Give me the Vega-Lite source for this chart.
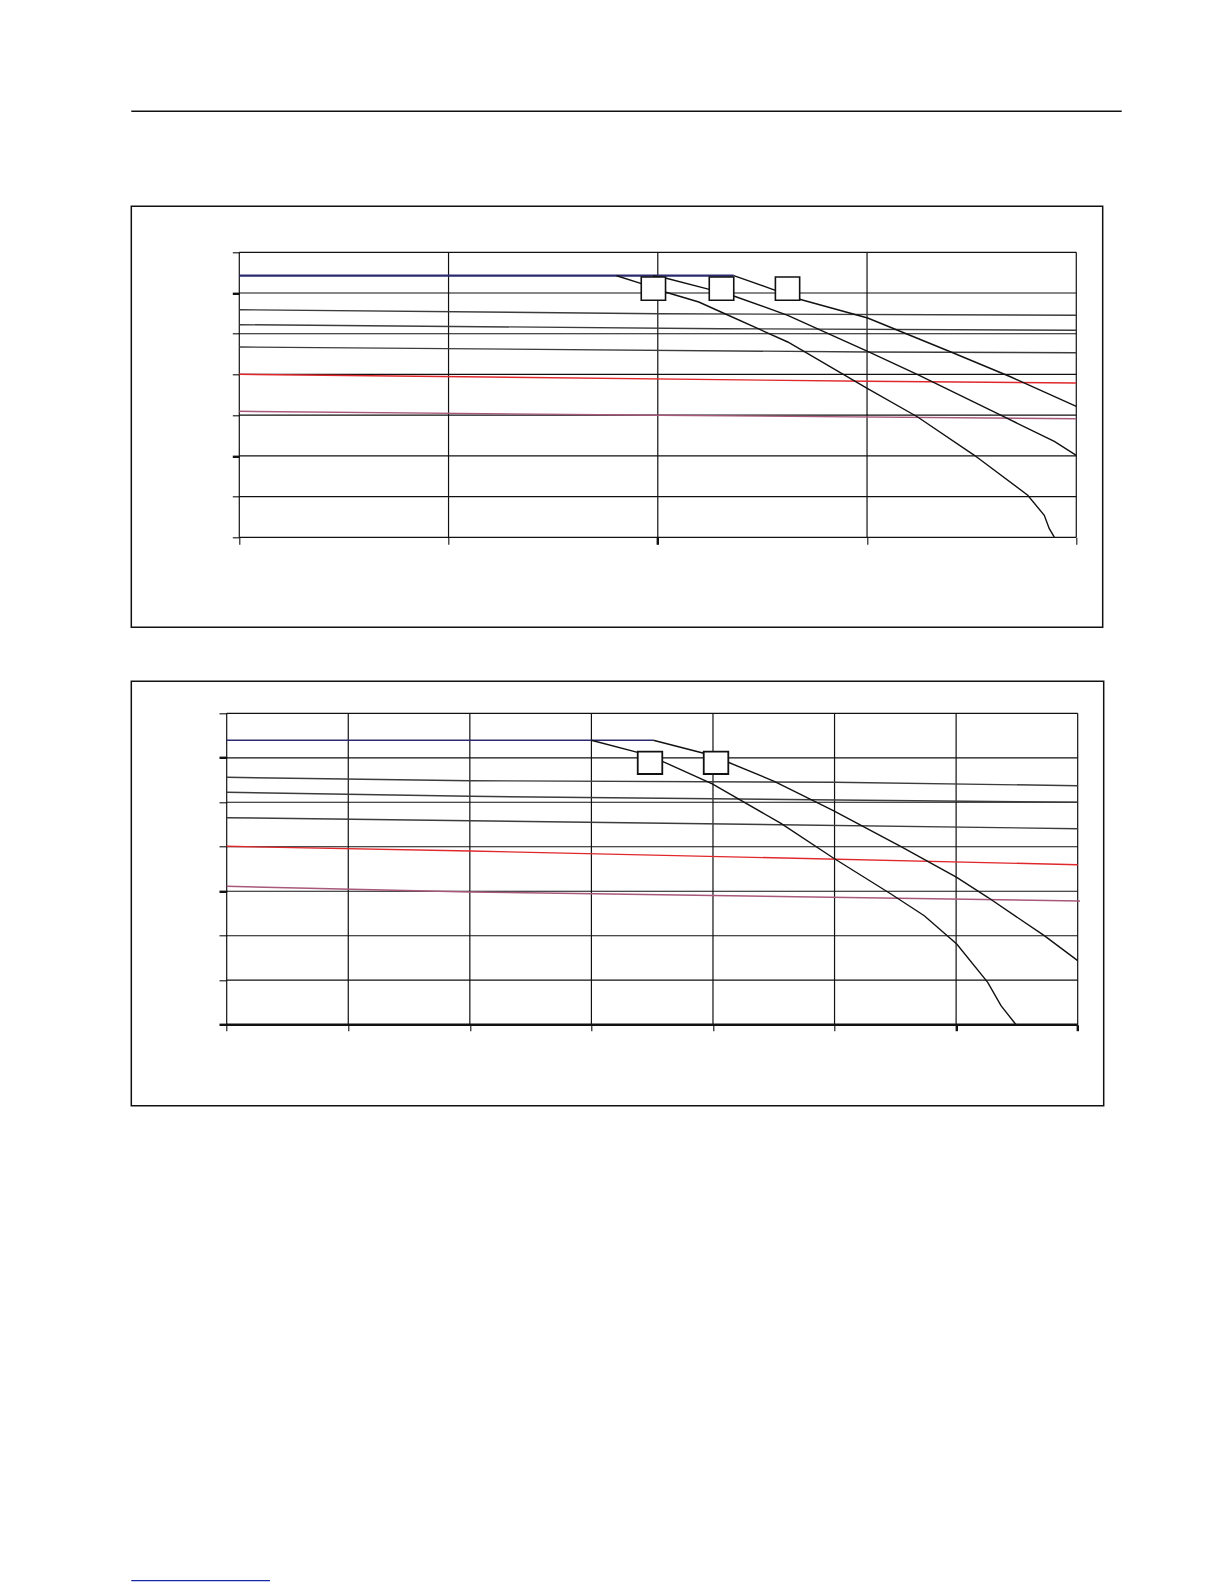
{
  "$schema": "https://vega.github.io/schema/vega-lite/v6.json",
  "background": "white",
  "padding": {"left": 130.3, "top": 110.3, "right": 4, "bottom": 4},
  "spacing": 52,
  "datasets": {
    "c1grid": [
      {"x": 0, "y": 0, "x2": 0, "y2": 7},
      {"x": 1, "y": 0, "x2": 1, "y2": 7},
      {"x": 2, "y": 0, "x2": 2, "y2": 7},
      {"x": 3, "y": 0, "x2": 3, "y2": 7},
      {"x": 4, "y": 0, "x2": 4, "y2": 7},
      {"x": 0, "y": 0, "x2": 4, "y2": 0},
      {"x": 0, "y": 1, "x2": 4, "y2": 1},
      {"x": 0, "y": 2, "x2": 4, "y2": 2},
      {"x": 0, "y": 3, "x2": 4, "y2": 3},
      {"x": 0, "y": 4, "x2": 4, "y2": 4},
      {"x": 0, "y": 5, "x2": 4, "y2": 5},
      {"x": 0, "y": 6, "x2": 4, "y2": 6},
      {"x": 0, "y": 7, "x2": 4, "y2": 7}
    ],
    "c1lines": [
      {"series": "s1", "x": 0, "y": 5.59},
      {"series": "s1", "x": 2.007, "y": 5.492},
      {"series": "s1", "x": 4, "y": 5.453},
      {"series": "s2", "x": 0, "y": 5.222},
      {"series": "s2", "x": 2.302, "y": 5.124},
      {"series": "s2", "x": 4, "y": 5.084},
      {"series": "s3", "x": 0, "y": 4.674},
      {"series": "s3", "x": 3.003, "y": 4.551},
      {"series": "s3", "x": 4, "y": 4.534},
      {"series": "red", "x": 0, "y": 4.004},
      {"series": "red", "x": 3.0, "y": 3.832},
      {"series": "red", "x": 4, "y": 3.79},
      {"series": "mauve", "x": 0, "y": 3.095},
      {"series": "mauve", "x": 2.006, "y": 2.997},
      {"series": "mauve", "x": 4, "y": 2.913},
      {"series": "limit", "x": 0, "y": 6.425},
      {"series": "limit", "x": 2.363, "y": 6.425},
      {"series": "A", "x": 1.803, "y": 6.425},
      {"series": "A", "x": 1.922, "y": 6.229},
      {"series": "A", "x": 2.035, "y": 6.025},
      {"series": "A", "x": 2.196, "y": 5.779},
      {"series": "A", "x": 2.302, "y": 5.534},
      {"series": "A", "x": 2.621, "y": 4.797},
      {"series": "A", "x": 3.003, "y": 3.65},
      {"series": "A", "x": 3.242, "y": 2.955},
      {"series": "A", "x": 3.513, "y": 2.014},
      {"series": "A", "x": 3.768, "y": 1.032},
      {"series": "A", "x": 3.847, "y": 0.54},
      {"series": "A", "x": 3.871, "y": 0.211},
      {"series": "A", "x": 3.895, "y": 0.007},
      {"series": "B", "x": 1.977, "y": 6.425},
      {"series": "B", "x": 2.036, "y": 6.369},
      {"series": "B", "x": 2.246, "y": 6.091},
      {"series": "B", "x": 2.363, "y": 5.927},
      {"series": "B", "x": 2.621, "y": 5.453},
      {"series": "B", "x": 3.003, "y": 4.568},
      {"series": "B", "x": 3.242, "y": 3.994},
      {"series": "B", "x": 3.656, "y": 2.955},
      {"series": "B", "x": 3.895, "y": 2.358},
      {"series": "B", "x": 4.0, "y": 2.014},
      {"series": "C", "x": 2.363, "y": 6.425},
      {"series": "C", "x": 2.562, "y": 6.067},
      {"series": "C", "x": 2.678, "y": 5.846},
      {"series": "C", "x": 3.003, "y": 5.386},
      {"series": "C", "x": 3.401, "y": 4.551},
      {"series": "C", "x": 3.688, "y": 3.937},
      {"series": "C", "x": 4.0, "y": 3.218}
    ],
    "c1boxes": [
      {"x": 1.921, "x2": 2.037, "y": 5.821, "y2": 6.393},
      {"x": 2.246, "x2": 2.363, "y": 5.821, "y2": 6.393},
      {"x": 2.562, "x2": 2.678, "y": 5.821, "y2": 6.393}
    ],
    "c2grid": [
      {"x": 0, "y": 0, "x2": 0, "y2": 7},
      {"x": 1, "y": 0, "x2": 1, "y2": 7},
      {"x": 2, "y": 0, "x2": 2, "y2": 7},
      {"x": 3, "y": 0, "x2": 3, "y2": 7},
      {"x": 4, "y": 0, "x2": 4, "y2": 7},
      {"x": 5, "y": 0, "x2": 5, "y2": 7},
      {"x": 6, "y": 0, "x2": 6, "y2": 7},
      {"x": 7, "y": 0, "x2": 7, "y2": 7},
      {"x": 0, "y": 0, "x2": 7, "y2": 0},
      {"x": 0, "y": 1, "x2": 7, "y2": 1},
      {"x": 0, "y": 2, "x2": 7, "y2": 2},
      {"x": 0, "y": 3, "x2": 7, "y2": 3},
      {"x": 0, "y": 4, "x2": 7, "y2": 4},
      {"x": 0, "y": 5, "x2": 7, "y2": 5},
      {"x": 0, "y": 6, "x2": 7, "y2": 6},
      {"x": 0, "y": 7, "x2": 7, "y2": 7}
    ],
    "c2lines": [
      {"series": "s1", "x": 0, "y": 5.561},
      {"series": "s1", "x": 2.005, "y": 5.485},
      {"series": "s1", "x": 5.0, "y": 5.449},
      {"series": "s1", "x": 7, "y": 5.373},
      {"series": "s2", "x": 0, "y": 5.224},
      {"series": "s2", "x": 2.005, "y": 5.134},
      {"series": "s2", "x": 7, "y": 4.999},
      {"series": "s3", "x": 0, "y": 4.653},
      {"series": "s3", "x": 2.005, "y": 4.586},
      {"series": "s3", "x": 7, "y": 4.406},
      {"series": "red", "x": 0, "y": 4.01},
      {"series": "red", "x": 2.005, "y": 3.905},
      {"series": "red", "x": 7, "y": 3.597},
      {"series": "mauve", "x": 0, "y": 3.111},
      {"series": "mauve", "x": 2.005, "y": 2.983},
      {"series": "mauve", "x": 7.019, "y": 2.781},
      {"series": "limit", "x": 0, "y": 6.393},
      {"series": "limit", "x": 3.509, "y": 6.393},
      {"series": "A", "x": 2.999, "y": 6.393},
      {"series": "A", "x": 3.38, "y": 6.123},
      {"series": "A", "x": 3.583, "y": 5.921},
      {"series": "A", "x": 3.994, "y": 5.411},
      {"series": "A", "x": 4.559, "y": 4.527},
      {"series": "A", "x": 4.99, "y": 3.747},
      {"series": "A", "x": 5.464, "y": 2.938},
      {"series": "A", "x": 5.738, "y": 2.45},
      {"series": "A", "x": 6.005, "y": 1.814},
      {"series": "A", "x": 6.26, "y": 0.953},
      {"series": "A", "x": 6.369, "y": 0.427},
      {"series": "A", "x": 6.493, "y": 0.0},
      {"series": "B", "x": 3.509, "y": 6.393},
      {"series": "B", "x": 3.924, "y": 6.101},
      {"series": "B", "x": 4.126, "y": 5.899},
      {"series": "B", "x": 4.504, "y": 5.471},
      {"series": "B", "x": 4.99, "y": 4.811},
      {"series": "B", "x": 5.547, "y": 4.001},
      {"series": "B", "x": 6.005, "y": 3.313},
      {"series": "B", "x": 6.26, "y": 2.864},
      {"series": "B", "x": 6.725, "y": 2.001},
      {"series": "B", "x": 7.0, "y": 1.439}
    ],
    "c2boxes": [
      {"x": 3.381, "x2": 3.583, "y": 5.636, "y2": 6.137},
      {"x": 3.924, "x2": 4.126, "y": 5.636, "y2": 6.137}
    ]
  },
  "vconcat": [
    {
      "width": 990.4,
      "height": 42,
      "data": {"values": [{"from": 0, "to": 1, "level": 1}]},
      "mark": {"type": "rule", "color": "#111111", "strokeWidth": 1.5},
      "encoding": {
        "x": {"field": "from", "type": "quantitative", "scale": {"domain": [0, 1]}, "axis": null},
        "x2": {"field": "to"},
        "y": {"field": "level", "type": "quantitative", "scale": {"domain": [0, 1]}, "axis": null}
      }
    },
    {
      "width": 971.4,
      "height": 421,
      "view": {"stroke": "#111111", "strokeWidth": 1.5},
      "encoding": {
        "x": {
          "field": "x",
          "type": "quantitative",
          "title": null,
          "scale": {"domain": [-0.5161, 4.1262], "nice": false, "zero": false},
          "axis": {
            "orient": "bottom",
            "offset": -90,
            "values": [0, 1, 2, 3, 4],
            "domain": false,
            "grid": false,
            "labels": false,
            "tickSize": 7,
            "tickColor": "#111111",
            "tickWidth": {"condition": {"test": "datum.value == 2", "value": 2.4}, "value": 1.1},
            "title": null
          }
        },
        "y": {
          "field": "y",
          "type": "quantitative",
          "title": null,
          "scale": {"domain": [-2.2105, 8.1298], "nice": false, "zero": false},
          "axis": {
            "orient": "left",
            "offset": -108,
            "values": [0, 1, 2, 3, 4, 5, 6, 7],
            "domain": false,
            "grid": false,
            "labels": false,
            "tickSize": 7,
            "tickColor": "#111111",
            "tickWidth": {"condition": {"test": "datum.value == 6 || datum.value == 2", "value": 2.4}, "value": 1.1},
            "title": null
          }
        }
      },
      "layer": [
        {
          "data": {"name": "c1grid"},
          "mark": {"type": "rule", "color": "#111111", "strokeWidth": 1.2},
          "encoding": {"x2": {"field": "x2"}, "y2": {"field": "y2"}}
        },
        {
          "data": {"name": "c1lines"},
          "mark": {"type": "line"},
          "encoding": {
            "color": {
              "field": "series",
              "type": "nominal",
              "legend": null,
              "scale": {
                "domain": ["s1", "s2", "s3", "red", "mauve", "limit", "A", "B", "C"],
                "range": ["#3c3c3c", "#3c3c3c", "#3c3c3c", "#e0282c", "#a8587a", "#2b2a6e", "#111111", "#111111", "#111111"]
              }
            },
            "strokeWidth": {"condition": {"test": "datum.series == 'limit'", "value": 2.2}, "value": 1.4}
          }
        },
        {
          "data": {"name": "c1boxes"},
          "mark": {"type": "rect", "fill": "white", "stroke": "#111111", "strokeWidth": 1.6},
          "encoding": {"x2": {"field": "x2"}, "y2": {"field": "y2"}}
        }
      ]
    },
    {
      "width": 972.4,
      "height": 424.4,
      "view": {"stroke": "#111111", "strokeWidth": 1.5},
      "encoding": {
        "x": {
          "field": "x",
          "type": "quantitative",
          "title": null,
          "scale": {"domain": [-0.7847, 7.2139], "nice": false, "zero": false},
          "axis": {
            "orient": "bottom",
            "offset": -81,
            "values": [0, 1, 2, 3, 4, 5, 6, 7],
            "domain": false,
            "grid": false,
            "labels": false,
            "tickSize": 6,
            "tickColor": "#111111",
            "tickWidth": {"condition": {"test": "datum.value == 6 || datum.value == 7", "value": 2.4}, "value": 1.1},
            "title": null
          }
        },
        "y": {
          "field": "y",
          "type": "quantitative",
          "title": null,
          "scale": {"domain": [-1.8208, 7.7193], "nice": false, "zero": false},
          "axis": {
            "orient": "left",
            "offset": -95.4,
            "values": [0, 1, 2, 3, 4, 5, 6, 7],
            "domain": false,
            "grid": false,
            "labels": false,
            "tickSize": 7.7,
            "tickColor": "#111111",
            "tickWidth": {"condition": {"test": "datum.value == 6 || datum.value == 3 || datum.value == 0", "value": 2.4}, "value": 1.1},
            "title": null
          }
        }
      },
      "layer": [
        {
          "data": {"name": "c2grid"},
          "mark": {"type": "rule", "color": "#111111", "strokeWidth": 1.2},
          "encoding": {"x2": {"field": "x2"}, "y2": {"field": "y2"}}
        },
        {
          "data": {"name": "c2grid"},
          "transform": [{"filter": "datum.y == 0 && datum.y2 == 0"}],
          "mark": {"type": "rule", "color": "#111111", "strokeWidth": 2.4},
          "encoding": {"x2": {"field": "x2"}, "y2": {"field": "y2"}}
        },
        {
          "data": {"name": "c2lines"},
          "mark": {"type": "line", "strokeWidth": 1.4},
          "encoding": {
            "color": {
              "field": "series",
              "type": "nominal",
              "legend": null,
              "scale": {
                "domain": ["s1", "s2", "s3", "red", "mauve", "limit", "A", "B", "C"],
                "range": ["#3c3c3c", "#3c3c3c", "#3c3c3c", "#e0282c", "#a8587a", "#2b2a6e", "#111111", "#111111", "#111111"]
              }
            }
          }
        },
        {
          "data": {"name": "c2boxes"},
          "mark": {"type": "rect", "fill": "white", "stroke": "#111111", "strokeWidth": 1.8},
          "encoding": {"x2": {"field": "x2"}, "y2": {"field": "y2"}}
        }
      ]
    },
    {
      "width": 972.4,
      "height": 421.3,
      "data": {"values": [{"from": 0, "to": 0.1426, "level": 0}]},
      "mark": {"type": "rule", "color": "#1428a8", "strokeWidth": 1.2},
      "encoding": {
        "x": {"field": "from", "type": "quantitative", "scale": {"domain": [0, 1]}, "axis": null},
        "x2": {"field": "to"},
        "y": {"field": "level", "type": "quantitative", "scale": {"domain": [0, 1]}, "axis": null}
      }
    }
  ],
  "config": {
    "view": {"stroke": null}
  }
}
